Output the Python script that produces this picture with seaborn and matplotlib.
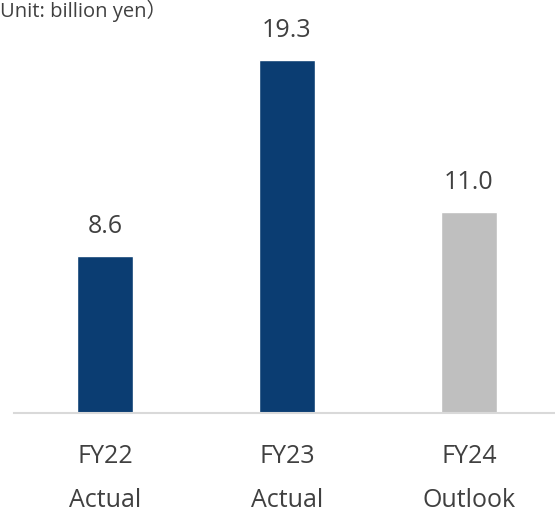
import matplotlib
matplotlib.use("Agg")
import matplotlib.pyplot as plt
import seaborn as sns
import pandas as pd

categories = ["FY22\nActual", "FY23\nActual", "FY24\nOutlook"]
values = [8.6, 19.3, 11.0]
bar_colors = ["#0B3D72", "#0B3D72", "#BFBFBF"]
unit_label = "Unit: billion yen）"

sns.set_theme(style="white")
plt.rcParams["font.family"] = ["Open Sans", "Noto Sans CJK JP", "DejaVu Sans"]

df = pd.DataFrame({"cat": categories, "val": values})

fig = plt.figure(figsize=(5.55, 5.12), dpi=100)
W, H = 555, 512
left, right = 14, 555
bottom = 413
top = 10
ax = fig.add_axes([left / W, (H - bottom) / H, (right - left) / W, (bottom - top) / H])

sns.barplot(data=df, x="cat", y="val", hue="cat", palette=bar_colors,
            legend=False, width=0.308, ax=ax, saturation=1)

ax.set_xlim(-0.5, 2.5 - 5 / 182)
ax.set_ylim(0, (bottom - top) / 18.3)
ax.set_xlabel("")
ax.set_ylabel("")
ax.set_yticks([])
for s in ["top", "left", "right"]:
    ax.spines[s].set_visible(False)
ax.spines["bottom"].set_color("#D9D9D9")
ax.spines["bottom"].set_linewidth(1.5)

ax.tick_params(axis="x", length=0, pad=22, labelsize=18, colors="#404040")
for lbl in ax.get_xticklabels():
    lbl.set_linespacing(2.0)

for cont in ax.containers:
    ax.bar_label(cont, fmt="%.1f", padding=12, fontsize=18, color="#404040")

fig.text(0.0, 1 - 17 / H, unit_label, fontsize=14.5, color="#404040",
         ha="left", va="baseline")

fig.savefig("out.png", dpi=100)
